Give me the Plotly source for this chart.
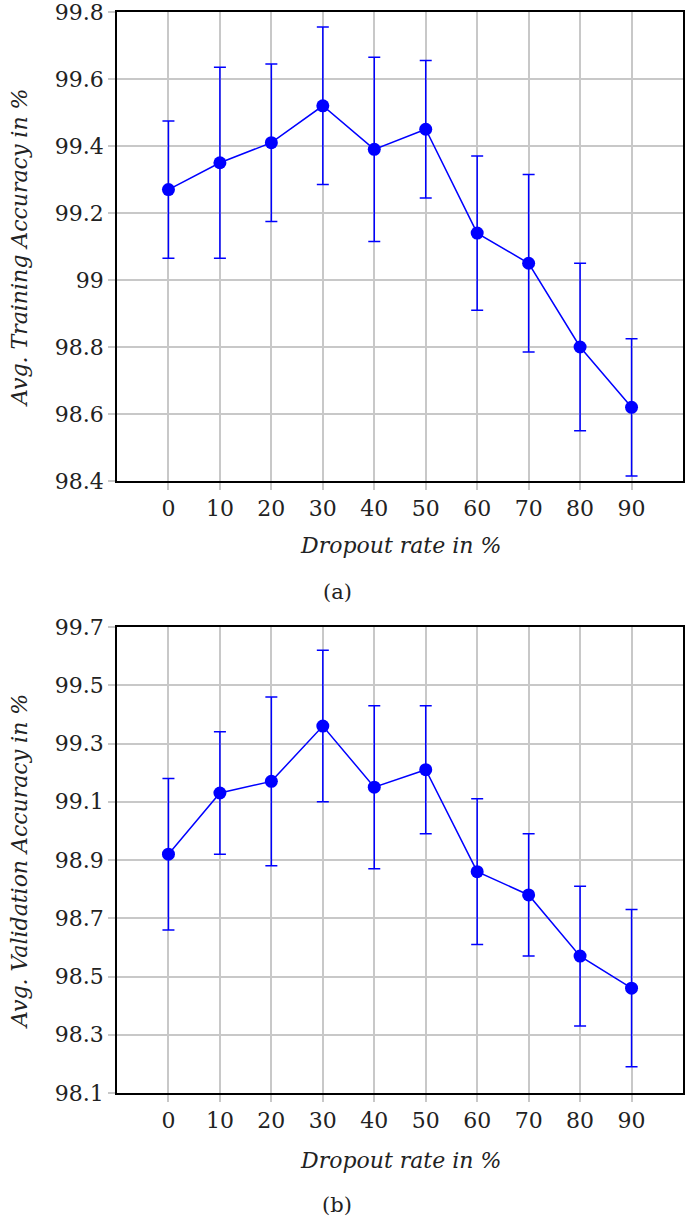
import plotly.graph_objects as go

dropout = [0, 10, 20, 30, 40, 50, 60, 70, 80, 90]
train_acc = [99.27, 99.35, 99.41, 99.52, 99.39, 99.45, 99.14, 99.05, 98.80, 98.62]
train_err = [0.205, 0.285, 0.235, 0.235, 0.275, 0.205, 0.23, 0.265, 0.25, 0.205]
val_acc = [98.92, 99.13, 99.17, 99.36, 99.15, 99.21, 98.86, 98.78, 98.57, 98.46]
val_err = [0.26, 0.21, 0.29, 0.26, 0.28, 0.22, 0.25, 0.21, 0.24, 0.27]

train_yticks = [98.4, 98.6, 98.8, 99.0, 99.2, 99.4, 99.6, 99.8]
train_yticktext = ["98.4", "98.6", "98.8", "99", "99.2", "99.4", "99.6", "99.8"]
val_yticks = [98.1, 98.3, 98.5, 98.7, 98.9, 99.1, 99.3, 99.5, 99.7]
val_yticktext = ["98.1", "98.3", "98.5", "98.7", "98.9", "99.1", "99.3", "99.5", "99.7"]

FONT = "DejaVu Serif"
BLUE = "#0000ff"
GRID = "#c8c8c8"
TXT = "#222"

fig = go.Figure()

for acc, err, xa, ya in [(train_acc, train_err, "x", "y"), (val_acc, val_err, "x2", "y2")]:
    fig.add_trace(go.Scatter(
        x=dropout, y=acc, mode="lines+markers",
        line=dict(color=BLUE, width=1.5),
        marker=dict(color=BLUE, size=13, symbol="circle"),
        error_y=dict(type="data", array=err, visible=True, color=BLUE, thickness=1.5, width=6),
        xaxis=xa, yaxis=ya, showlegend=False, hoverinfo="skip",
    ))

# body margin is removed by a post script, so the figure fills the page
W, H = 685, 1221
FRAME_L, FRAME_R = 117, 683
TOP_T, TOP_B = 12, 481
BOT_T, BOT_B = 627, 1093
L = FRAME_L
R = W - FRAME_R
T = TOP_T
B = H - BOT_B
pw = W - L - R
ph = H - T - B

def px_x(px):
    return (px - L) / pw

def px_y(py):
    return (H - B - py) / ph

top_dom = [px_y(TOP_B), 1.0]
bot_dom = [0.0, px_y(BOT_T)]

xcommon = dict(
    range=[-10, 100], tickvals=dropout, ticktext=[str(v) for v in dropout],
    showgrid=True, gridcolor=GRID, gridwidth=1.5,
    showline=True, linecolor="black", linewidth=1.5, mirror=True,
    ticks="outside", ticklen=7, tickcolor=GRID, tickwidth=1.5,
    tickfont=dict(family=FONT, size=22, color=TXT),
    zeroline=False, automargin=False, ticklabeloverflow="allow",
)
ycommon = dict(
    showgrid=True, gridcolor=GRID, gridwidth=1.5,
    showline=True, linecolor="black", linewidth=1.5, mirror=True,
    ticks="outside", ticklen=7, tickcolor=GRID, tickwidth=1.5,
    tickfont=dict(family=FONT, size=22, color=TXT),
    zeroline=False, automargin=False, ticklabeloverflow="allow",
)

fig.update_layout(
    width=W, height=H,
    margin=dict(l=L, r=R, t=T, b=B, autoexpand=False),
    plot_bgcolor="white", paper_bgcolor="white",
    xaxis=dict(**xcommon, domain=[0, 1], anchor="y"),
    xaxis2=dict(**xcommon, domain=[0, 1], anchor="y2"),
    yaxis=dict(**ycommon, domain=top_dom, anchor="x", range=[98.4, 99.8],
               tickvals=train_yticks, ticktext=train_yticktext),
    yaxis2=dict(**ycommon, domain=bot_dom, anchor="x2", range=[98.1, 99.7],
                tickvals=val_yticks, ticktext=val_yticktext),
)

labels = [
    ("<i>Dropout rate in %</i>", 400, 545, 0, 22),
    ("<i>Dropout rate in %</i>", 400, 1160, 0, 22),
    ("<i>Avg. Training Accuracy in %</i>", 19, 248, -90, 22),
    ("<i>Avg. Validation Accuracy in %</i>", 19, 862, -90, 22),
    ("(a)", 337, 592, 0, 21),
    ("(b)", 337, 1205, 0, 21),
]
for text, x, y, ang, size in labels:
    fig.add_annotation(text=text, x=px_x(x), y=px_y(y), xref="paper", yref="paper",
                       showarrow=False, textangle=ang, xanchor="center", yanchor="middle",
                       font=dict(family=FONT, size=size, color=TXT))

fig.write_html(
    "out.html",
    config={"displayModeBar": False},
    post_script="document.body.style.margin='0';document.body.style.overflow='hidden';",
)
